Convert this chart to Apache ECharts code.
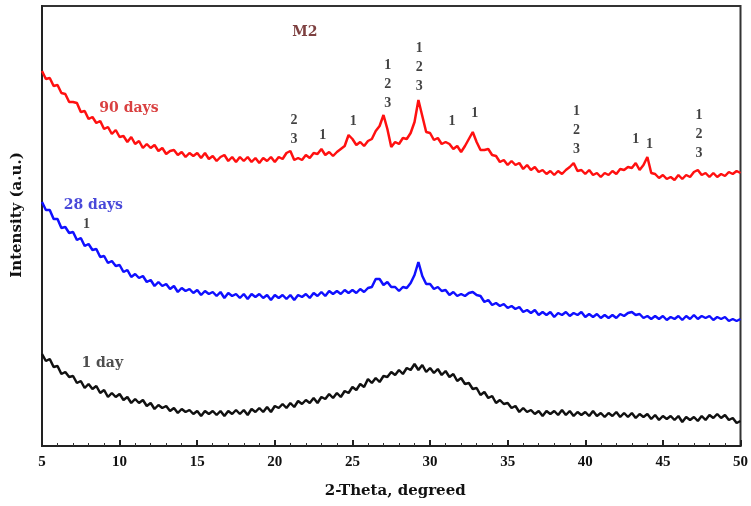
<!DOCTYPE html>
<html>
<head>
<meta charset="utf-8">
<script src="https://cdn.jsdelivr.net/npm/echarts@6/dist/echarts.min.js"></script>
<style>html,body{margin:0;padding:0;background:#fff;}#c{width:751px;height:506px;}</style>
</head>
<body>
<div id="c"></div>
<script>
// 2-Theta sampling grid: 5 to 50 deg, step 0.25
const thetaStart = 5, thetaStep = 0.25, thetaCount = 181;

// Intensity (a.u.), one value per grid step
const days90 = [
375,367,368,360,361,353,352,344,344,343,334,335,327,329,323,325,317,319,312,316,
309,310,304,309,302,305,298,302,298,301,295,298,292,295,296,291,294,289,293,290,
293,288,293,287,290,285,289,291,285,289,284,289,285,289,284,288,283,288,285,289,
284,289,287,293,295,286,288,286,291,288,293,292,297,291,294,290,294,297,300,311,
307,301,304,300,305,307,315,320,331,317,299,304,302,308,307,313,324,346,330,314,
313,306,308,302,304,302,297,300,294,300,307,314,304,296,296,297,291,290,284,286,
281,285,281,283,277,281,276,279,274,276,272,275,271,275,272,276,279,283,275,276,
272,276,271,273,269,273,271,275,272,277,276,279,278,283,276,281,289,273,272,268,
271,267,269,266,271,267,271,269,274,276,271,273,269,273,269,272,270,274,272,275,
273];
const days28 = [
244,236,236,227,227,218,219,213,214,206,208,200,202,196,197,189,190,183,185,180,
181,174,176,169,172,168,170,164,166,160,164,160,162,157,160,154,158,155,157,153,
156,151,155,152,154,150,154,148,153,150,152,148,152,147,152,149,152,148,151,146,
151,148,151,147,151,146,151,149,152,148,153,150,154,150,155,152,155,152,156,153,
156,153,157,154,158,159,167,167,161,164,159,159,155,159,158,163,171,184,170,162,
162,157,159,155,156,151,154,150,152,150,153,154,151,150,144,146,141,143,140,142,
138,140,137,139,134,136,133,136,131,134,131,134,129,133,131,134,130,133,131,134,
129,132,129,132,128,131,128,131,128,132,130,133,134,131,132,128,130,127,130,127,
130,126,129,127,130,126,130,127,131,127,130,128,130,126,129,127,129,125,127,125,
127];
const days1 = [
92,85,87,79,80,72,74,69,70,63,65,58,62,57,60,53,56,49,53,49,
52,46,49,43,47,43,46,40,43,37,41,38,40,35,38,33,37,34,36,32,
35,30,35,32,35,31,35,30,35,32,36,32,36,31,37,34,38,34,39,34,
40,38,42,38,43,39,45,42,46,43,48,43,49,47,52,48,53,49,55,53,
59,56,62,59,67,63,68,64,70,69,74,71,76,72,78,76,82,76,81,74,
78,73,77,71,75,69,72,65,68,62,63,57,58,51,54,48,50,43,46,42,
43,38,40,34,38,34,36,32,35,30,35,32,35,31,36,31,35,30,34,31,
34,30,35,30,33,29,33,30,34,29,33,29,33,28,32,29,32,27,31,26,
30,27,30,26,30,24,29,26,29,25,30,26,31,28,32,28,31,26,28,23,
25];

// Peak phase markers (2-theta, intensity at label foot, text)
const peakTheta = [21.23, 23.08, 25.05, 27.28, 29.31, 31.41, 32.88, 39.43, 43.25, 44.14, 47.33, 7.86];
const peakLabelAt = [297, 301, 315, 333, 350, 315, 323, 287, 297, 292, 283, 212];
const peakText = ['2\n3', '1', '1', '1\n2\n3', '1\n2\n3', '1', '1', '1\n2\n3', '1', '1', '1\n2\n3', '1'];

// Curve captions
const captionText = ['90 days', '28 days', '1 day', 'M2'];
const captionTheta = [10.6, 8.31, 8.88, 21.93];
const captionAt = [338, 241, 83, 414];
const captionColor = ['#d01010', '#1a1ad0', '#222222', '#5c1010'];

const xTickValues = [5, 10, 15, 20, 25, 30, 35, 40, 45, 50];

const theta = [];
for (let i = 0; i < thetaCount; i++) theta.push(thetaStart + i * thetaStep);
const pair = arr => theta.map((t, i) => [t, arr[i]]);

const serif = 'Liberation Serif';
const serifWide = 'DejaVu Serif';

const chart = echarts.init(document.getElementById('c'), null, {renderer: 'canvas'});
chart.setOption({
  animation: false,
  backgroundColor: '#fff',
  grid: {left: 42, right: 2, top: 6, bottom: 60, show: true, borderColor: '#333', borderWidth: 2},
  xAxis: {
    type: 'value', min: xTickValues[0], max: xTickValues[xTickValues.length - 1], interval: 5,
    axisLine: {lineStyle: {color: '#222', width: 2}},
    axisTick: {inside: true, length: 6, lineStyle: {color: '#222', width: 2}},
    minorTick: {show: true, splitNumber: 5, length: 3, lineStyle: {color: '#333', width: 1}},
    axisLabel: {fontFamily: serif, fontWeight: 'bold', fontSize: 15, color: '#111', margin: 9},
    splitLine: {show: false},
    name: '2-Theta, degreed', nameLocation: 'middle', nameGap: 38,
    nameTextStyle: {fontFamily: serifWide, fontWeight: 'bold', fontSize: 15, color: '#111', padding: [0, 0, 0, 8]}
  },
  yAxis: {
    type: 'value', min: 0, max: 440,
    axisLine: {show: true, lineStyle: {color: '#222', width: 2}},
    axisTick: {show: false}, axisLabel: {show: false}, splitLine: {show: false},
    name: 'Intensity (a.u.)', nameLocation: 'middle', nameGap: 17,
    nameTextStyle: {fontFamily: serifWide, fontWeight: 'bold', fontSize: 15, color: '#111', padding: [0, 0, 0, 22]}
  },
  series: [
    {type: 'line', data: pair(days90), showSymbol: false, lineStyle: {color: '#ff1010', width: 2.5}, z: 3},
    {type: 'line', data: pair(days28), showSymbol: false, lineStyle: {color: '#1010ff', width: 2.5}, z: 3},
    {type: 'line', data: pair(days1), showSymbol: false, lineStyle: {color: '#111111', width: 2.5}, z: 3},
    {
      type: 'scatter', symbolSize: 0, z: 5,
      data: peakTheta.map((t, i) => ({value: [t, peakLabelAt[i]], label: {formatter: peakText[i]}})),
      label: {show: true, position: 'top', distance: 0, fontFamily: serif, fontWeight: 'bold', fontSize: 14, lineHeight: 19, color: '#111'}
    },
    {
      type: 'scatter', symbolSize: 0, z: 5,
      data: captionTheta.map((t, i) => ({value: [t, captionAt[i]], label: {formatter: captionText[i], color: captionColor[i]}})),
      label: {show: true, position: 'inside', fontFamily: serifWide, fontWeight: 'bold', fontSize: 14}
    }
  ]
});
</script>
</body>
</html>
